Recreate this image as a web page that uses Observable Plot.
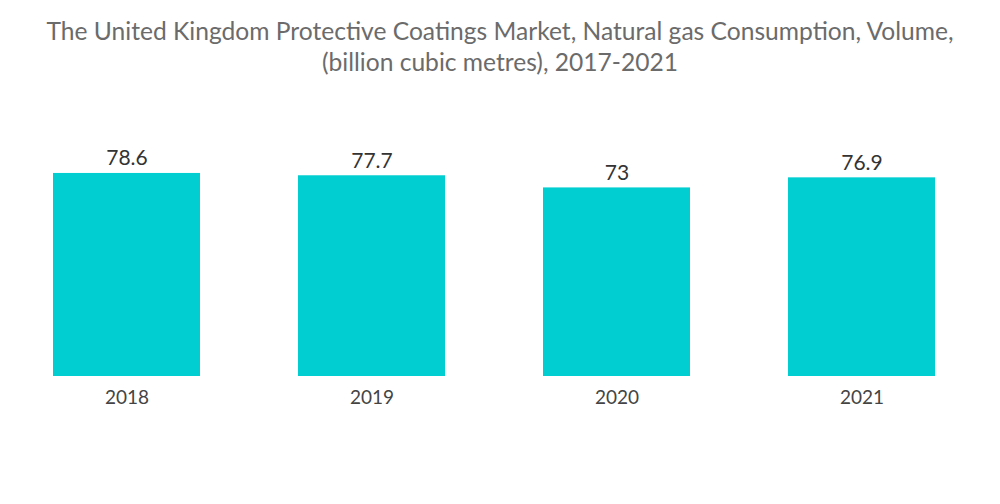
<!DOCTYPE html>
<html>
<head>
<meta charset="utf-8">
<script src="https://cdn.jsdelivr.net/npm/d3@7"></script>
<script src="https://cdn.jsdelivr.net/npm/@observablehq/plot@0.6"></script>
<style>
  html, body { margin: 0; padding: 0; background: #fff; }
  #title { height: 90px; box-sizing: border-box; padding-top: 15px; text-align: center;
    font-family: Lato, sans-serif; font-size: 24.6px; line-height: 31px; color: #6b6b6b; }
</style>
</head>
<body>
<div id="title">The United Kingdom Protective Coatings Market, Natural gas Consumption, Volume,<br>(billion cubic metres), 2017-2021</div>
<div id="chart"></div>
<script>
const years = ["2018", "2019", "2020", "2021"];
const values = [78.6, 77.7, 73, 76.9];
const labels = ["78.6", "77.7", "73", "76.9"];
const data = years.map((y, i) => ({year: y, value: values[i], label: labels[i]}));

const chart = Plot.plot({
  width: 1000,
  height: 414,
  marginLeft: 4,
  marginRight: 16,
  marginTop: 53.5,
  marginBottom: 128,
  style: {fontFamily: "Lato, sans-serif", background: "#fff"},
  x: {domain: years, paddingInner: 0.4, paddingOuter: 0.2, label: null},
  y: {domain: [0, 90], axis: null},
  marks: [
    Plot.barY(data, {x: "year", y: "value", fill: "#00ced1"}),
    Plot.text(data, {x: "year", y: "value", text: "label", dy: -15, fontSize: 21, fill: "#333"}),
    Plot.axisX({tickSize: 0, tickPadding: 14, fontSize: 19, color: "#444", label: null})
  ]
});
document.getElementById("chart").appendChild(chart);
</script>
</body>
</html>
